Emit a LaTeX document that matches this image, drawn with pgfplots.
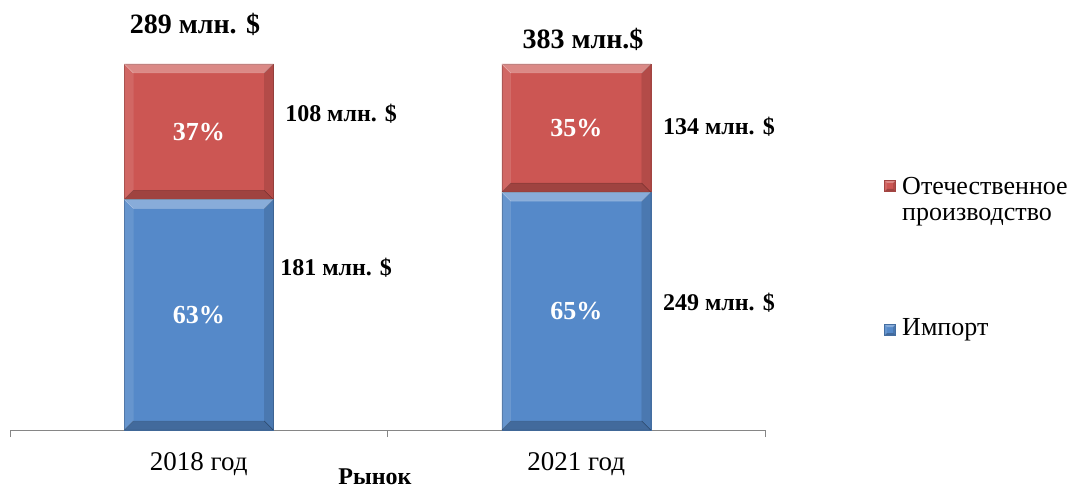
\documentclass[border=0pt]{standalone}
\usepackage{fontspec}
\setmainfont{Liberation Serif}
\usepackage{pgfplots}
\pgfplotsset{compat=1.18}
\definecolor{redbar}{RGB}{204,86,83}
\definecolor{bluebar}{RGB}{85,137,201}
\definecolor{axgray}{RGB}{134,134,134}
\newcommand{\fs}[1]{\fontsize{#1}{1.2\dimexpr#1\relax}\selectfont}
\newif\ifinbevel
\tikzset{bevel/.style={path picture={%
  \ifinbevel\else
  \inbeveltrue
  \def\bv{#1}%
  \coordinate (nw) at (path picture bounding box.north west);
  \coordinate (ne) at (path picture bounding box.north east);
  \coordinate (sw) at (path picture bounding box.south west);
  \coordinate (se) at (path picture bounding box.south east);
  \fill[white,opacity=0.30] (nw) -- (ne) -- ([shift={(-\bv,-\bv)}]ne) -- ([shift={(\bv,-\bv)}]nw) -- cycle;
  \fill[white,opacity=0.10] (nw) -- ([shift={(\bv,-\bv)}]nw) -- ([shift={(\bv,\bv)}]sw) -- (sw) -- cycle;
  \fill[black,opacity=0.12] (ne) -- (se) -- ([shift={(-\bv,\bv)}]se) -- ([shift={(-\bv,-\bv)}]ne) -- cycle;
  \fill[black,opacity=0.22] (sw) -- (se) -- ([shift={(-\bv,\bv)}]se) -- ([shift={(\bv,\bv)}]sw) -- cycle;
  \fi
}}}
\begin{document}
\begin{tikzpicture}
\begin{axis}[
  at={(0,0)}, anchor=south west,
  scale only axis, width=755bp, height=366bp,
  ybar stacked, bar width=149bp,
  xmin=-0.5, xmax=1.5, ymin=0, ymax=100,
  axis x line*=bottom, hide y axis,
  x axis line style={axgray, line width=1bp},
  xtick={-0.5,0.5,1.5}, xticklabels={},
  tick align=outside, major tick length=7bp,
  tick style={axgray, line width=1bp},
  extra x ticks={0,1},
  extra x tick labels={2018 год,2021 год},
  extra x tick style={major tick length=0pt, tick label style={font=\fs{27bp}, yshift=-19bp}},
  visualization depends on={rawy \as \rawy},
  nodes near coords={\pgfmathprintnumber[assume math mode=true, fixed, precision=0]{\rawy}\%},
  every node near coord/.append style={anchor=center, inner sep=0pt,
     text width=149bp, align=center,
     minimum width=149bp, minimum height=\rawy*3.66bp,
     bevel=9bp, text=white, font=\bfseries\fs{26bp}},
  clip=false,
]
\addplot[fill=bluebar, draw=bluebar!80!black, line width=0.4bp] coordinates {(0,63) (1,65)};
\addplot[fill=redbar, draw=redbar!80!black, line width=0.4bp] coordinates {(0,37) (1,35)};
% totals
\node[font=\bfseries\fs{28bp}] at (axis cs:-0.01,110.7) {289 млн. \$};
\node[font=\bfseries\fs{28bp}] at (axis cs:1.018,106.6) {383 млн.\$};
% values
\node[font=\bfseries\fs{24bp}] at (axis cs:0.377,86.3) {108 млн. \$};
\node[font=\bfseries\fs{24bp}] at (axis cs:0.364,44.3) {181 млн. \$};
\node[font=\bfseries\fs{24bp}] at (axis cs:1.378,82.8) {134 млн. \$};
\node[font=\bfseries\fs{24bp}] at (axis cs:1.378,34.7) {249 млн. \$};
% x label
\node[font=\bfseries\fs{24bp}] at ([yshift=-47bp]rel axis cs:0.4834,0) {Рынок};
% legend
\node[fill=redbar, draw=redbar!80!black, line width=0.4bp, minimum size=11bp, inner sep=0pt, bevel=2.5bp] at (rel axis cs:1.1656,0.6667) {};
\node[anchor=west, inner sep=0pt, font=\fs{26bp}] at (rel axis cs:1.1815,0.6667) {Отечественное};
\node[anchor=west, inner sep=0pt, font=\fs{26bp}] at (rel axis cs:1.1815,0.582) {производство};
\node[fill=bluebar, draw=bluebar!80!black, line width=0.4bp, minimum size=11bp, inner sep=0pt, bevel=2.5bp] at (rel axis cs:1.1656,0.2732) {};
\node[anchor=west, inner sep=0pt, font=\fs{26bp}] at (rel axis cs:1.1815,0.2732) {Импорт};
\end{axis}
\pgfresetboundingbox
\path[use as bounding box] (-10bp,-59bp) rectangle (1063bp,430bp);
\end{tikzpicture}
\end{document}
